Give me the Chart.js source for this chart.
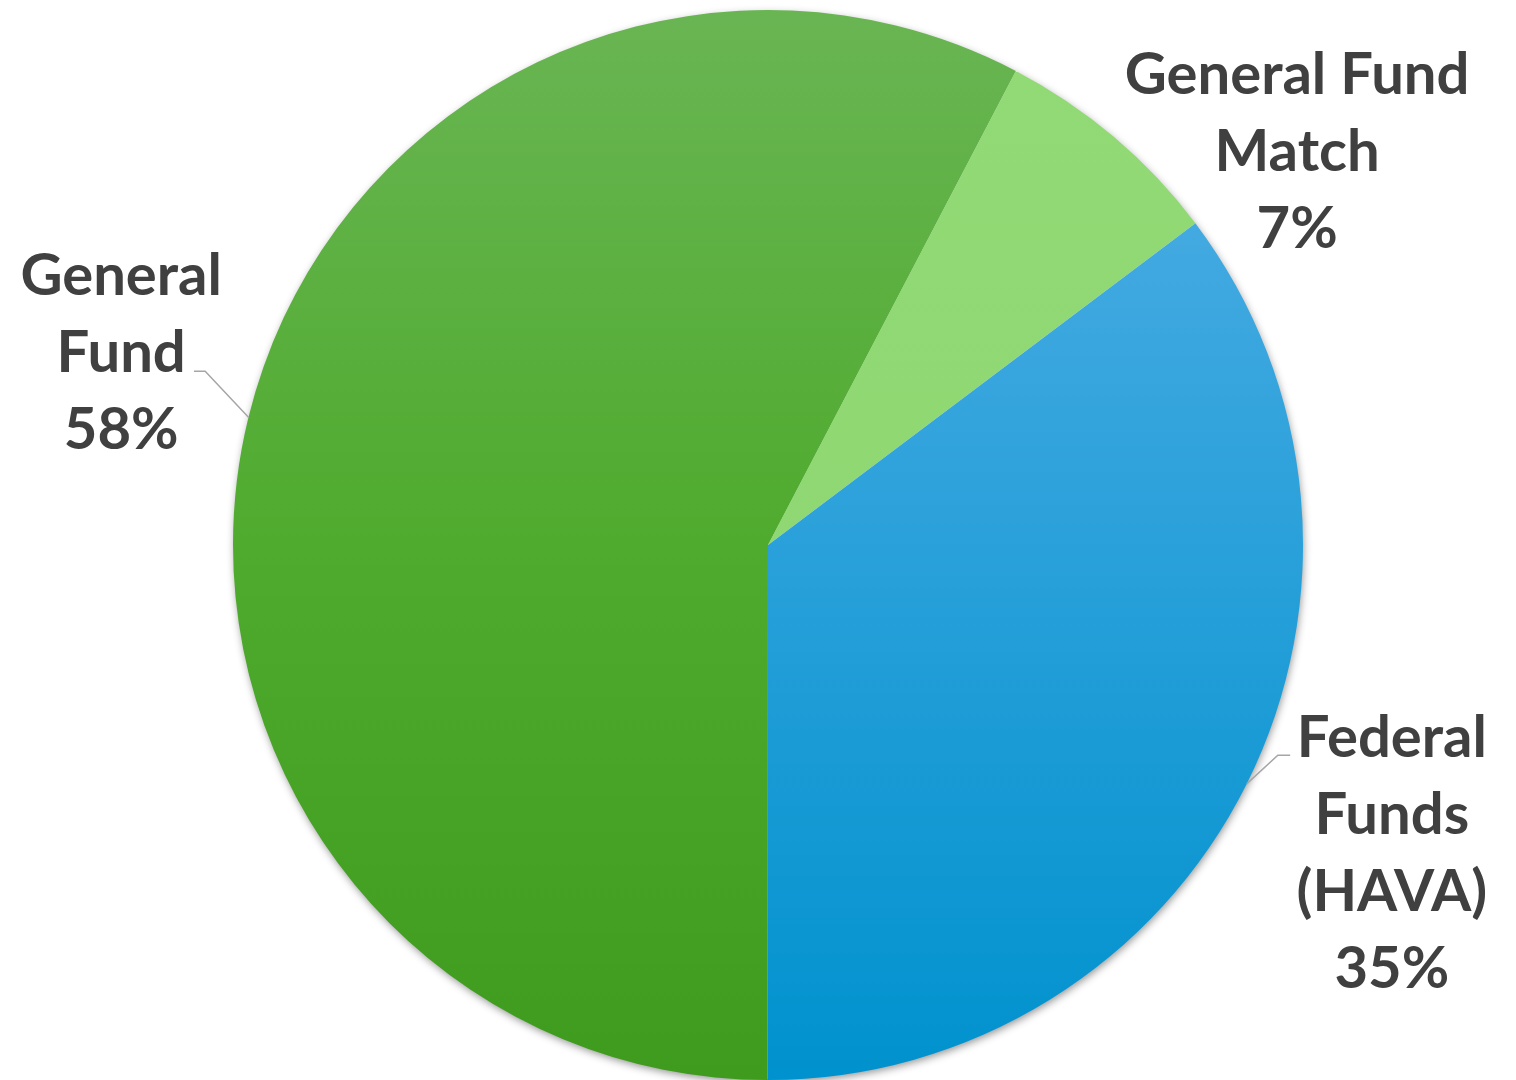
<!DOCTYPE html>
<html>
<head>
<meta charset="utf-8">
<script src="https://cdn.jsdelivr.net/npm/chart.js@4"></script>
<style>
  html, body { margin: 0; padding: 0; background: #ffffff; }
  #wrap { width: 1516px; height: 1080px; position: relative; }
</style>
</head>
<body>
<div id="wrap"><canvas id="c" width="1516" height="1080"></canvas></div>
<script>
// ---- data ----
const categories = [['General Fund', 'Match'], ['Federal', 'Funds', '(HAVA)'], ['General', 'Fund']];
const values = [7.06, 35.28, 57.66];
const startRotation = 27.6; // degrees clockwise from 12 o'clock

// ---- styling / label placement (in units of pie radius, relative to centre) ----
const labelCenters = [[0.989, -0.738], [1.166, 0.574], [-1.209, -0.361]];
const leaderElbows = [null, [0.953, 0.393], [-1.052, -0.325]];
const leaderEnds   = [null, [0.976, 0.393], [-1.073, -0.325]];

function grad(ctx, area, stops) {
  const g = ctx.createLinearGradient(0, area.top, 0, area.bottom);
  stops.forEach(s => g.addColorStop(s[0], s[1]));
  return g;
}

const fillStops = [
  [[0, '#92da75'], [1, '#8bd56f']],
  [[0, '#5ab6ea'], [0.2, '#43a9e1'], [1, '#0092ce']],
  [[0, '#69b553'], [0.5, '#4fab2e'], [1, '#3f9b1e']]
];

const shadowPlugin = {
  id: 'pieShadow',
  beforeDatasetsDraw(chart) {
    const meta = chart.getDatasetMeta(0);
    if (!meta.data.length) return;
    const a = meta.data[0];
    const ctx = chart.ctx;
    ctx.save();
    ctx.shadowColor = 'rgba(0,0,0,0.45)';
    ctx.shadowBlur = 9;
    ctx.shadowOffsetX = 1;
    ctx.shadowOffsetY = 3;
    ctx.fillStyle = '#ffffff';
    ctx.beginPath();
    ctx.arc(a.x, a.y, a.outerRadius - 1, 0, Math.PI * 2);
    ctx.fill();
    ctx.restore();
  }
};

const labelPlugin = {
  id: 'sliceLabels',
  afterDatasetsDraw(chart) {
    const meta = chart.getDatasetMeta(0);
    const ctx = chart.ctx;
    const total = values.reduce((s, v) => s + v, 0);
    const fontSize = 58;
    const lineH = 77;
    const capH = 41;
    meta.data.forEach((arc, i) => {
      const R = arc.outerRadius;
      const cx = arc.x, cy = arc.y;
      if (leaderElbows[i]) {
        const mid = (arc.startAngle + arc.endAngle) / 2;
        ctx.save();
        ctx.strokeStyle = '#a6a6a6';
        ctx.lineWidth = 1.5;
        ctx.beginPath();
        ctx.moveTo(cx + Math.cos(mid) * R, cy + Math.sin(mid) * R);
        ctx.lineTo(cx + leaderElbows[i][0] * R, cy + leaderElbows[i][1] * R);
        ctx.lineTo(cx + leaderEnds[i][0] * R, cy + leaderEnds[i][1] * R);
        ctx.stroke();
        ctx.restore();
      }
      const lines = categories[i].concat([Math.round(values[i] / total * 100) + '%']);
      const lx = cx + labelCenters[i][0] * R;
      const ly = cy + labelCenters[i][1] * R;
      const first = ly - (lines.length - 1) * lineH / 2 + capH / 2;
      ctx.save();
      ctx.fillStyle = '#404040';
      ctx.font = '700 ' + fontSize + 'px Lato, "Open Sans", sans-serif';
      ctx.textAlign = 'center';
      ctx.textBaseline = 'alphabetic';
      lines.forEach((t, k) => ctx.fillText(t, lx, first + k * lineH));
      ctx.restore();
    });
  }
};

new Chart(document.getElementById('c'), {
  type: 'pie',
  data: {
    labels: categories.map(c => c.join(' ')),
    datasets: [{
      data: values,
      borderWidth: 0,
      backgroundColor: (context) => {
        const area = context.chart.chartArea;
        if (!area) return '#4fab2e';
        return grad(context.chart.ctx, area, fillStops[context.dataIndex]);
      }
    }]
  },
  plugins: [shadowPlugin, labelPlugin],
  options: {
    responsive: false,
    animation: false,
    rotation: startRotation,
    layout: { padding: { top: 10, left: 20, right: 0, bottom: 0 } },
    plugins: {
      legend: { display: false },
      tooltip: { enabled: false }
    }
  }
});
</script>
</body>
</html>
